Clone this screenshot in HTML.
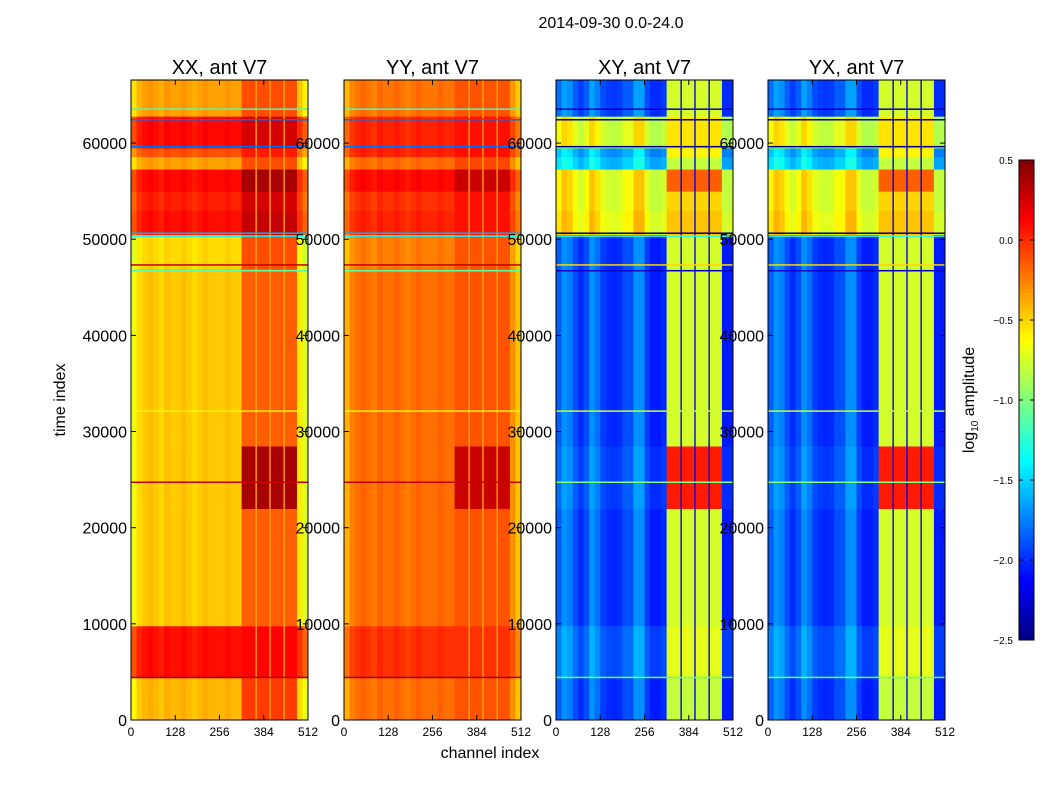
<!DOCTYPE html>
<html><head><meta charset="utf-8"><style>
body{margin:0;background:#fff;font-family:"Liberation Sans",sans-serif}
svg text{font-family:"Liberation Sans",sans-serif;fill:#000}
</style></head><body>
<svg id="fig" width="1050" height="800" xmlns="http://www.w3.org/2000/svg">
<text x="611" y="28" font-size="16" text-anchor="middle">2014-09-30 0.0-24.0</text>
<text x="490" y="758" font-size="16" text-anchor="middle">channel index</text>
<text transform="translate(65,400) rotate(-90)" font-size="16" text-anchor="middle">time index</text>
<text transform="translate(974,400) rotate(-90)" font-size="16" text-anchor="middle">log<tspan font-size="10" dy="4">10</tspan><tspan dy="-4"> amplitude</tspan></text>
<g id="panels"></g>
<g id="cbar"></g>
</svg>
<script>
const panelNames=["XX, ant V7","YY, ant V7","XY, ant V7","YX, ant V7"];
const bandStart=[0,4400,9800,22000,28500,47000,50500,53000,55000,57300,58600,59500,62800];
const bandEnd  =[4400,9800,22000,28500,47000,50500,53000,55000,57300,58600,59500,62800,66560];
const xxLow =[-0.42,0.08,-0.47,-0.47,-0.47,-0.52,0.08,0.03,0.1,-0.35,-0.12,0.1,-0.35];
const xxHigh=[-0.05,0.12,-0.15,0.38,-0.15,-0.1,0.3,0.25,0.38,-0.1,0.05,0.25,-0.1];
const yyLow =[-0.2,-0.02,-0.2,-0.2,-0.2,-0.25,0.02,-0.02,0.1,-0.2,0.02,0.02,-0.22];
const yyHigh=[-0.12,-0.02,-0.12,0.28,-0.12,-0.12,0.08,0.08,0.28,-0.08,0.08,0.08,-0.12];
const xyLow =[-1.9,-1.8,-1.9,-1.85,-1.9,-1.9,-0.6,-0.65,-0.65,-1.5,-1.6,-0.7,-1.85];
const xyHigh=[-0.8,-0.7,-0.75,0.05,-0.75,-0.75,-0.45,-0.5,-0.15,-0.8,-0.6,-0.55,-0.75];
const yxLow =[-1.9,-1.8,-1.9,-1.85,-1.9,-1.9,-0.6,-0.65,-0.65,-1.5,-1.6,-0.7,-1.85];
const yxHigh=[-0.8,-0.7,-0.75,0.05,-0.75,-0.75,-0.45,-0.5,-0.15,-0.8,-0.6,-0.55,-0.75];
const parProfile=[-0.2,-0.05,0,0.04,0,-0.04,0.04,0,0,0.04,0,-0.04,0,0.04,0,0,0,0.04,0,0,0,0,0,0,0,0,0,0,0,0,-0.1,-0.25];
const crossProfile=[0.05,0.2,0.15,0,-0.1,0,0.2,0.1,-0.05,-0.1,-0.12,-0.1,0,0,0.2,0.2,-0.05,-0.15,-0.15,-0.1,0,0,0,0,0,0,0,0,0,0,-0.15,-0.15];
const gapChannels=[362,402,443];
const gapPar=-0.35, gapCross=-2.2;
const lineTimes=[63500,62400,59600,50600,50300,47300,46700,32100,24700,4400];
const linePar  =[-1.2,-1.8,-1.8,-1.6,-1.4,0.3,-1.1,-0.6,0.3,0.4];
const lineCross=[-2.3,-2.5,-2.5,-2.5,-1.3,-0.5,-2.3,-0.8,-1.0,-1.1];
const panelLow=[xxLow,yyLow,xyLow,yxLow], panelHigh=[xxHigh,yyHigh,xyHigh,yxHigh];
const yTicks=[0,10000,20000,30000,40000,50000,60000];
const xTicks=[0,128,256,384,512];
const cbTicks=[0.5,0.0,-0.5,-1.0,-1.5,-2.0,-2.5];

const NS="http://www.w3.org/2000/svg";
const lefts=[131,344,556,768], W=177, TOP=80, BOT=720, TMAX=66560, VMIN=-2.5, VMAX=0.5;
function jet(v){let x=(v-VMIN)/(VMAX-VMIN);x=Math.max(0,Math.min(1,x));
 const c=t=>Math.round(255*Math.max(0,Math.min(1,1.5-Math.abs(4*x-t))));
 return `rgb(${c(3)},${c(2)},${c(1)})`;}
function mk(tag,attrs,parent){const e=document.createElementNS(NS,tag);for(const k in attrs)e.setAttribute(k,attrs[k]);parent.appendChild(e);return e;}
const panelsG=document.getElementById('panels');
for(let p=0;p<4;p++){
 const L=lefts[p];
 const xs=ch=>L+ch/512*W, ys=t=>BOT-t/TMAX*(BOT-TOP);
 const g=mk('g',{},panelsG);
 
 
 const prof=p<2?parProfile:crossProfile;
 for(let b=0;b<bandStart.length;b++){
  for(let k=0;k<32;k++){
   const high=k>=20&&k<30;
   const v=high?panelHigh[p][b]:panelLow[p][b]+prof[k];
   const y0=ys(bandEnd[b]), y1=ys(bandStart[b]);
   const r=mk('rect',{x:xs(k*16),y:y0,width:xs(k*16+16)-xs(k*16)+0.5,height:y1-y0+0.5,fill:jet(v)},g);
   
   
  }
 }
 for(const gc of gapChannels){
  const r=mk('rect',{x:xs(gc-2),y:TOP,width:xs(gc+2)-xs(gc-2),height:BOT-TOP,fill:jet(p<2?gapPar:gapCross)},g);
  
  
 }
 for(let i=0;i<lineTimes.length;i++){
  const r=mk('rect',{x:L,y:ys(lineTimes[i])-1,width:W,height:1.5,fill:jet(p<2?linePar[i]:lineCross[i])},g);
  
  
 }
 const fr=mk('rect',{x:L,y:TOP,width:W,height:BOT-TOP,fill:'none',stroke:'#000','stroke-width':1},g);
 
 
 const tt=mk('text',{x:L+W/2,y:74,'font-size':20,'text-anchor':'middle'},g);tt.textContent=panelNames[p];
 
 
 for(const t of yTicks){const y=ys(t);
  mk('line',{x1:L,x2:L+5,y1:y,y2:y,stroke:'#000'},g);mk('line',{x1:L+W-5,x2:L+W,y1:y,y2:y,stroke:'#000'},g);
  const tx=mk('text',{x:L-4,y:y+6,'font-size':16,'text-anchor':'end'},g);tx.textContent=t;
  
  }
 for(const c of xTicks){const x=xs(c);
  mk('line',{x1:x,x2:x,y1:BOT,y2:BOT-5,stroke:'#000'},g);mk('line',{x1:x,x2:x,y1:TOP,y2:TOP+5,stroke:'#000'},g);
  const tx=mk('text',{x:x,y:BOT+16,'font-size':12,'text-anchor':'middle'},g);tx.textContent=c;
  
  }
}
const cb=document.getElementById('cbar');


const CX=1019,CW=15,CT=160,CB=640;
for(let i=0;i<120;i++){const v=VMIN+(i+0.5)/120*(VMAX-VMIN);
 const y=CB-(i+1)/120*(CB-CT);mk('rect',{x:CX,y:y,width:CW,height:(CB-CT)/120+0.5,fill:jet(v)},cb);}
mk('rect',{x:CX,y:CT,width:CW,height:CB-CT,fill:'none',stroke:'#000'},cb);
for(const v of cbTicks){const y=CB-(v-VMIN)/(VMAX-VMIN)*(CB-CT);
 mk('line',{x1:CX,x2:CX+4,y1:y,y2:y,stroke:'#000'},cb);mk('line',{x1:CX+CW-4,x2:CX+CW,y1:y,y2:y,stroke:'#000'},cb);
 const tx=mk('text',{x:1013,y:y+4,'font-size':10,'text-anchor':'end'},cb);tx.textContent=v.toFixed(1).replace('-','\u2212');
 
 }
</script>
</body></html>
